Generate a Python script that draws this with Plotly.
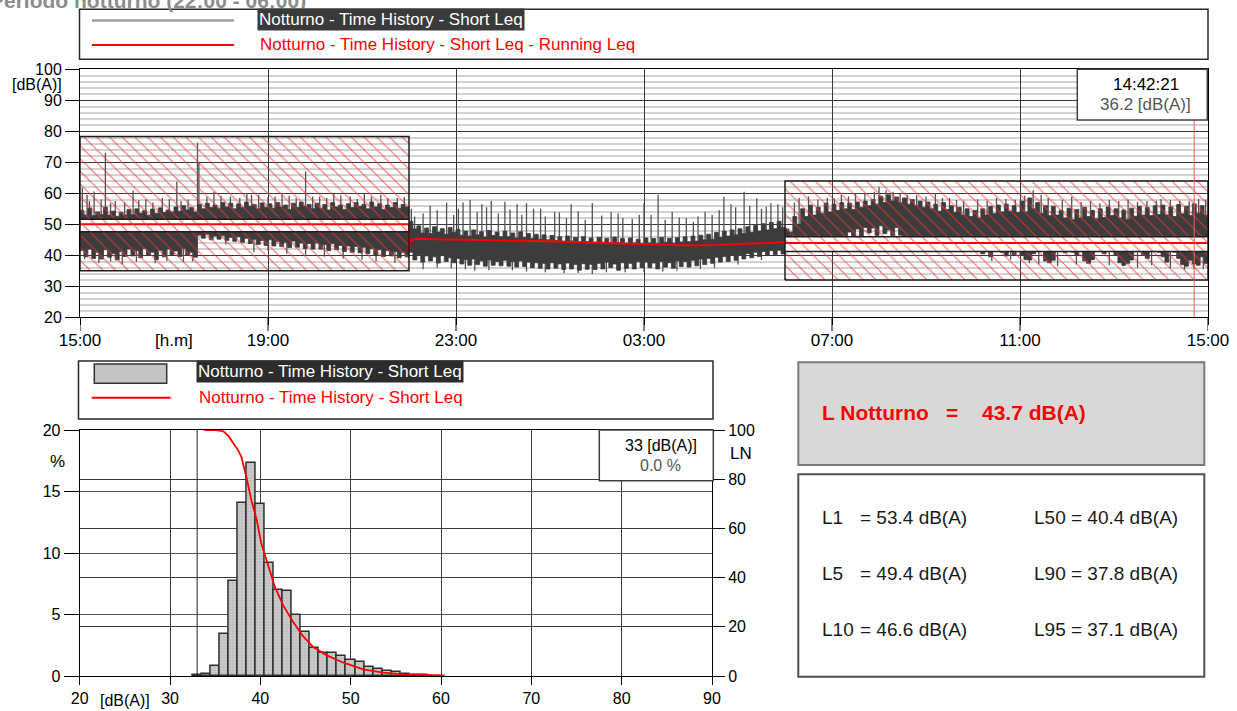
import numpy as np
import plotly.graph_objects as go

W, H = 1237, 711
def PX(x): return x / W
def PY(y): return 1 - y / H

FONT = "Arial, Liberation Sans, sans-serif"

# ---------------- time history data (hours after 15:00, 5-minute samples) ----------------
SAMPLE_MIN = 5
time_ticks = [0, 4, 8, 12, 16, 20, 24]
time_labels = ["15:00", "19:00", "23:00", "03:00", "07:00", "11:00", "15:00"]

upper_env = [
    54.5, 53.0, 55.2, 52.8, 54.0, 53.2, 55.5, 53.0, 54.2, 52.6, 53.8, 53.0,   # 15-16
    54.8, 53.2, 55.0, 53.6, 54.4, 52.9, 54.9, 53.5, 55.3, 53.8, 54.6, 54.0,   # 16-17
    55.6, 54.2, 56.0, 54.6, 55.4, 54.0, 56.4, 55.0, 56.8, 55.4, 56.2, 55.2,   # 17-18
    57.0, 55.6, 56.8, 55.0, 56.6, 55.4, 57.2, 55.8, 56.4, 55.0, 56.9, 55.5,   # 18-19
    56.6, 55.2, 57.0, 55.6, 56.2, 54.8, 56.8, 55.4, 57.2, 55.8, 56.4, 55.0,   # 19-20
    56.8, 55.2, 56.4, 54.6, 57.0, 55.6, 56.2, 54.8, 56.6, 55.4, 57.0, 55.8,   # 20-21
    56.4, 55.0, 57.2, 55.6, 56.6, 54.8, 56.2, 55.4, 57.0, 55.2, 56.4, 55.6,   # 21-22
    51.0, 48.5, 49.5, 47.2, 48.8, 47.0, 49.2, 47.5, 48.6, 46.8, 49.0, 47.4,   # 22-23
    48.4, 46.5, 47.8, 46.2, 48.2, 46.6, 47.6, 45.9, 48.0, 46.4, 47.5, 46.0,   # 23-00
    47.8, 46.0, 47.2, 45.6, 47.6, 45.8, 47.0, 45.4, 46.8, 45.2, 46.6, 45.0,   # 00-01
    46.4, 44.8, 46.0, 44.5, 46.2, 44.6, 45.8, 44.2, 46.0, 44.4, 45.6, 44.0,   # 01-02
    45.8, 44.2, 45.5, 43.9, 45.9, 44.1, 45.4, 43.8, 45.6, 44.0, 45.2, 43.7,   # 02-03
    45.6, 44.0, 45.4, 43.8, 45.8, 44.2, 45.5, 43.9, 45.7, 44.3, 46.0, 44.4,   # 03-04
    46.2, 44.6, 46.5, 45.0, 46.8, 45.2, 47.4, 45.8, 47.8, 46.2, 48.2, 46.6,   # 04-05
    48.6, 47.0, 49.2, 47.4, 49.6, 47.8, 50.2, 48.2, 50.6, 48.6, 51.0, 49.0,   # 05-06
    48.5, 47.5, 52.5, 50.0, 55.0, 52.5, 56.2, 53.0, 55.5, 53.5, 56.8, 54.0,   # 06-07
    56.5, 54.5, 57.0, 55.0, 56.8, 54.8, 57.2, 55.5, 57.5, 56.0, 58.0, 56.5,   # 07-08
    59.0, 57.0, 59.5, 57.5, 58.8, 57.0, 58.5, 56.5, 58.0, 56.0, 57.5, 55.5,   # 08-09
    57.2, 55.0, 56.5, 54.2, 57.0, 54.8, 56.0, 53.8, 55.5, 53.0, 55.0, 52.5,   # 09-10
    54.5, 52.0, 55.0, 53.0, 55.8, 53.5, 56.2, 54.0, 56.5, 54.2, 56.0, 53.8,   # 10-11
    57.5, 54.0, 58.5, 55.0, 57.0, 53.5, 56.0, 52.8, 55.8, 53.0, 54.5, 52.0,   # 11-12
    55.2, 51.5, 54.8, 52.0, 55.5, 52.5, 54.5, 51.8, 55.0, 52.2, 55.6, 52.8,   # 12-13
    55.0, 52.0, 54.6, 51.5, 55.2, 52.6, 55.8, 53.0, 55.4, 52.8, 56.0, 53.2,   # 13-14
    56.2, 53.0, 55.6, 52.5, 56.4, 53.4, 55.8, 52.8, 56.6, 53.6, 56.0, 53.0,   # 14-15
    55.5,
]
lower_env = [
    41.5, 39.5, 42.0, 39.0, 41.0, 38.8, 41.8, 39.4, 40.6, 38.5, 41.2, 39.6,
    42.0, 39.8, 41.5, 39.2, 42.2, 40.0, 41.0, 38.6, 41.6, 39.5, 42.0, 40.2,
    41.4, 39.6, 42.2, 40.0, 41.0, 39.4, 46.5, 45.5, 46.8, 45.0, 46.2, 45.2,
    46.4, 44.8, 45.8, 44.5, 46.0, 44.2, 45.5, 43.8, 45.2, 43.5, 44.8, 43.2,
    45.0, 43.0, 44.5, 42.8, 44.2, 42.5, 44.6, 42.6, 44.0, 42.2, 43.8, 42.0,
    44.0, 42.0, 43.5, 41.5, 43.8, 41.8, 43.2, 41.2, 43.0, 41.0, 42.8, 40.8,
    42.6, 40.5, 42.2, 40.0, 41.8, 39.6, 41.5, 39.8, 41.2, 39.2, 41.0, 39.5,
    41.0, 38.5, 40.2, 37.8, 39.8, 38.2, 39.5, 37.5, 39.9, 38.0, 39.2, 37.6,
    39.0, 37.2, 38.6, 36.8, 38.8, 37.0, 38.2, 36.5, 38.5, 36.8, 38.0, 36.6,
    38.4, 36.5, 38.0, 36.2, 38.2, 36.4, 37.8, 36.0, 37.6, 35.8, 37.4, 35.6,
    37.6, 35.8, 37.2, 35.4, 37.5, 35.6, 37.0, 35.2, 37.3, 35.5, 37.1, 35.4,
    37.4, 35.6, 37.8, 36.0, 37.2, 35.2, 37.6, 35.8, 37.4, 35.6, 37.9, 36.0,
    37.8, 36.0, 37.5, 35.6, 38.0, 36.2, 37.6, 35.8, 38.2, 36.4, 38.0, 36.2,
    38.4, 36.6, 38.8, 37.0, 39.0, 37.4, 39.4, 37.8, 39.6, 38.0, 40.0, 38.4,
    40.2, 38.8, 40.6, 39.2, 41.0, 39.6, 41.2, 40.0, 41.5, 40.2, 41.6, 40.4,
    43.0, 43.0, 43.0, 43.0, 43.0, 43.0, 43.0, 43.0, 43.0, 43.0, 43.0, 43.0,
    43.0, 43.0, 43.0, 43.0, 47.5, 46.2, 48.5, 46.0, 49.0, 47.2, 48.8, 46.4,
    49.5, 47.0, 48.2, 46.3, 49.0, 46.5, 43.0, 43.0, 43.0, 43.0, 43.0, 43.0,
    43.0, 43.0, 43.0, 43.0, 43.0, 43.0, 43.0, 43.0, 43.0, 43.0, 43.0, 43.0,
    43.0, 43.0, 40.5, 42.5, 39.5, 42.0, 43.0, 41.0, 39.8, 42.5, 40.2, 41.6,
    40.0, 38.6, 38.5, 40.5, 42.5, 41.8, 38.2, 37.6, 38.4, 41.5, 42.5, 40.8,
    42.5, 41.0, 40.2, 42.0, 38.2, 37.4, 38.6, 41.5, 42.5, 40.5, 41.8, 42.5,
    40.0, 37.6, 36.8, 37.4, 38.5, 41.5, 42.5, 40.2, 39.0, 41.8, 42.5, 41.0,
    39.5, 37.8, 42.0, 41.0, 39.0, 37.0, 36.5, 38.4, 37.2, 36.8, 39.5, 37.4,
    37.8,
]
spike_up_t = [0.05, 0.15, 0.30, 0.54, 0.75, 1.13, 1.40, 1.75, 2.06, 2.30, 2.50, 2.53, 2.85, 3.20,
              3.55, 3.80, 4.15, 4.45, 4.80, 5.10, 5.40, 5.75, 6.05, 6.40, 6.75,
              0.20, 0.45, 0.65, 0.95, 1.25, 1.55, 1.90, 2.15, 2.70, 3.00, 3.40, 3.65, 4.00, 4.30,
              4.60, 4.95, 5.25, 5.55, 5.90, 6.20, 6.55, 6.90,
              7.05, 7.30, 7.45, 7.80, 8.15, 8.30, 8.55, 8.75, 9.04, 9.30, 9.50, 9.80, 10.10, 10.45,
              10.90, 11.30, 11.55, 11.90, 12.00, 12.30, 12.60, 12.90, 13.30, 13.70, 13.85, 14.13,
              14.40, 14.60, 14.85,
              7.12, 7.60, 7.95, 8.05, 8.45, 8.65, 8.90, 9.15, 9.40, 9.65, 9.90, 10.20, 10.35, 10.60,
              10.75, 11.10, 11.45, 11.75, 12.15, 12.45, 12.75, 13.05, 13.15, 13.45, 13.60, 13.95,
              14.25, 14.50, 14.70, 14.95,
              15.30, 15.50, 15.90, 16.20, 16.50, 16.90, 17.00, 17.30, 17.60, 18.00, 18.20, 18.50,
              18.80, 19.10, 19.50, 19.90, 20.28, 20.60, 21.10, 21.50, 21.90, 22.30, 22.70, 23.00,
              23.40, 23.80,
              15.20, 15.70, 16.05, 16.35, 16.70, 17.15, 17.45, 17.80, 18.35, 18.65, 19.30, 19.70,
              20.10, 20.45, 20.90, 21.30, 21.70, 22.10, 22.50, 22.90, 23.20, 23.60, 23.95]
spike_up_v = [61.7, 59.5, 60.6, 73.1, 57.5, 60.9, 58.0, 58.5, 63.7, 58.0, 76.3, 70.0, 60.5, 59.0,
              60.0, 59.5, 59.0, 59.2, 67.0, 59.0, 60.2, 59.0, 60.0, 59.5, 58.5,
              57.5, 58.0, 56.8, 57.2, 57.8, 57.0, 58.2, 57.5, 58.8, 59.2, 58.5, 59.5, 58.8, 59.6,
              58.4, 59.0, 58.5, 59.4, 58.2, 59.0, 58.4, 58.8,
              55.0, 53.5, 56.0, 57.0, 57.0, 57.8, 56.5, 57.5, 57.3, 56.5, 56.8, 55.0, 54.0, 56.5,
              56.8, 54.0, 52.0, 53.0, 56.8, 59.5, 54.0, 52.0, 54.0, 58.9, 56.5, 60.5,
              58.4, 55.7, 56.5,
              52.5, 54.5, 53.0, 55.0, 54.0, 55.5, 53.5, 54.8, 53.0, 55.0, 52.5, 53.8, 52.0, 54.2,
              51.5, 52.8, 53.5, 51.8, 53.0, 51.5, 52.2, 50.8, 52.5, 53.0, 54.5, 55.5,
              56.0, 55.0, 56.8, 55.5,
              58.5, 59.0, 58.5, 59.5, 60.0, 60.5, 62.1, 60.5, 59.5, 59.0, 60.0, 58.5,
              57.5, 58.0, 58.5, 58.0, 61.0, 58.5, 58.9, 57.5, 57.8, 58.0, 57.5, 58.2,
              57.5, 58.2,
              57.0, 58.0, 58.3, 59.0, 60.0, 61.0, 60.2, 59.4, 58.5, 57.8, 57.5, 58.2,
              59.2, 59.5, 57.8, 57.2, 56.8, 57.5, 57.2, 57.6, 57.8, 57.4, 57.9]
spike_dn_t = [0.40, 0.90, 1.60, 2.20, 2.40, 3.70, 4.40, 5.60, 6.30, 6.70,
              0.10, 0.65, 1.20, 1.85, 3.10, 4.00, 4.80, 5.20, 6.00,
              7.30, 8.40, 9.20, 10.30, 10.90, 11.60, 12.40, 13.20,
              7.60, 7.90, 8.20, 8.70, 9.50, 9.90, 10.60, 11.20, 12.00, 12.70, 13.50, 14.00, 14.50,
              20.40, 20.80, 21.90, 22.50, 23.50, 23.90,
              19.40, 19.80, 20.20, 21.20, 21.50, 22.20, 22.80, 23.20, 23.70]
spike_dn_v = [37.5, 37.0, 37.5, 37.8, 38.0, 41.0, 40.5, 39.0, 38.0, 37.5,
              38.8, 38.0, 37.8, 38.2, 43.5, 41.5, 40.2, 39.5, 38.6,
              35.5, 35.0, 35.2, 34.2, 34.0, 34.5, 34.8, 35.6,
              36.0, 35.8, 35.5, 35.2, 34.8, 34.5, 34.3, 34.5, 34.6, 35.0, 36.0, 37.0, 38.5,
              37.0, 36.5, 36.8, 36.0, 35.3, 35.5,
              38.2, 38.6, 37.5, 37.0, 37.8, 36.5, 36.8, 35.8, 35.5]

run_t = [0, 7.0, 7.0, 7.02, 7.05, 7.15, 7.5, 8.0, 8.5, 9.0, 9.5, 10.0, 10.5, 11.0, 11.5,
         12.0, 12.5, 13.0, 13.5, 14.0, 14.5, 15.0, 15.0, 24.0]
run_v = [50.0, 50.0, 41.3, 45.5, 44.8, 45.3, 45.2, 45.1, 45.0, 44.9, 44.7, 44.5, 44.3, 44.1, 43.8,
         43.5, 43.3, 43.2, 43.3, 43.6, 43.9, 44.2, 44.0, 44.0]

mask_start = [0.0, 15.0]
mask_end = [7.0, 24.0]
mask_low = [35.0, 32.0]
mask_high = [78.3, 64.0]
band_low = [47.6, 41.2]
band_high = [51.6, 46.0]

cursor_time = 23.706
cursor_label = "14:42:21"
cursor_value = "36.2 [dB(A)]"

# ---------------- distribution data ----------------
hist_db = list(range(33, 59))
hist_pct = [0.08, 0.15, 0.8, 3.4, 7.75, 14.1, 17.3, 14.0, 9.2, 7.0, 6.9, 5.0, 3.55, 2.3,
            1.9, 1.9, 1.6, 1.3, 1.15, 0.75, 0.6, 0.4, 0.3, 0.2, 0.1, 0.05]
ln_db = [33.8, 35.0, 35.9, 36.5, 37.0, 37.5, 37.9, 38.45, 39.0, 39.6, 40.1, 40.7, 41.6, 42.5,
         43.6, 44.7, 45.8, 47.3, 49.2, 51.4, 53.6, 55.8, 58.0, 60.4]
ln_val = [100, 100, 99.5, 97.5, 94.6, 92.0, 89.1, 81.0, 71.5, 63.4, 54.0, 46.5, 36.3, 28.9,
          22.1, 16.3, 11.9, 8.5, 5.4, 2.7, 1.4, 0.7, 0.4, 0.2]
hist_cursor_db = 33
hist_cursor_label = "33 [dB(A)]"
hist_cursor_value = "0.0 %"

leq_label, leq_value = "L Notturno", "43.7 dB(A)"
stats_left = [("L1", "= 53.4 dB(A)"), ("L5", "= 49.4 dB(A)"), ("L10", "= 46.6 dB(A)")]
stats_right = ["L50 = 40.4 dB(A)", "L90 = 37.8 dB(A)", "L95 = 37.1 dB(A)"]

series_name = "Notturno - Time History - Short Leq"
running_name = "Notturno - Time History - Short Leq - Running Leq"
title_text = "Periodo notturno (22:00 - 06:00)"

# ---------------- figure ----------------
t = np.arange(len(upper_env)) * SAMPLE_MIN / 60.0
U = np.array(upper_env)
L = np.array(lower_env)
mid = (U + L) / 2

fig = go.Figure()

# spikes (drawn under the body, so only the part outside it shows)
sx, sy = [], []
for tt, vv in zip(spike_up_t + spike_dn_t, spike_up_v + spike_dn_v):
    b = float(np.interp(tt, t, mid))
    sx += [tt, tt, None]
    sy += [b, vv, None]
fig.add_trace(go.Scatter(x=sx, y=sy, mode="lines", line=dict(color="#525252", width=1.3),
                         hoverinfo="skip", xaxis="x", yaxis="y"))
# body
fig.add_trace(go.Scatter(x=t, y=L, mode="lines", line=dict(color="#3c3c3c", width=0.8, shape="hv"),
                         hoverinfo="skip", xaxis="x", yaxis="y"))
fig.add_trace(go.Scatter(x=t, y=U, mode="lines", fill="tonexty", fillcolor="#3c3c3c",
                         line=dict(color="#3c3c3c", width=0.8, shape="hv"), hoverinfo="skip",
                         xaxis="x", yaxis="y"))
# white bands
for s, e, bl, bh in zip(mask_start, mask_end, band_low, band_high):
    fig.add_trace(go.Scatter(x=[s, e, e, s, s], y=[bl, bl, bh, bh, bl], mode="none",
                             fill="toself", fillcolor="white", hoverinfo="skip",
                             xaxis="x", yaxis="y"))
# running Leq
fig.add_trace(go.Scatter(x=run_t, y=run_v, mode="lines", line=dict(color="#ff0000", width=2),
                         hoverinfo="skip", xaxis="x", yaxis="y"))
# hatched masks
for s, e, lo, hi in zip(mask_start, mask_end, mask_low, mask_high):
    fig.add_trace(go.Scatter(x=[s, e, e, s, s], y=[lo, lo, hi, hi, lo], mode="none",
                             fill="toself", fillcolor="rgba(0,0,0,0)",
                             fillpattern=dict(shape="\\", fgcolor="#ff3030", fgopacity=0.75,
                                              size=9, solidity=0.12, fillmode="overlay"),
                             hoverinfo="skip", xaxis="x", yaxis="y"))
# outlines
ox, oy = [], []
for s, e, lo, hi, bl, bh in zip(mask_start, mask_end, mask_low, mask_high, band_low, band_high):
    ox += [s, e, e, s, s, None, s, e, None, s, e, None]
    oy += [lo, lo, hi, hi, lo, None, bl, bl, None, bh, bh, None]
fig.add_trace(go.Scatter(x=ox, y=oy, mode="lines", line=dict(color="#1e1e1e", width=1.5),
                         hoverinfo="skip", xaxis="x", yaxis="y"))

# histogram
fig.add_trace(go.Bar(x=hist_db, y=hist_pct, width=1, xaxis="x2", yaxis="y2",
                     marker=dict(color="#c4c4c4", line=dict(color="#2e2e2e", width=1.5),
                                 pattern=dict(shape=".", fgcolor="#f0f0f0", bgcolor="#bcbcbc",
                                              size=3, solidity=0.35)),
                     hoverinfo="skip"))
fig.add_trace(go.Scatter(x=ln_db, y=ln_val, mode="lines", line=dict(color="#ff0000", width=1.8),
                         xaxis="x2", yaxis="y3", hoverinfo="skip"))

tickfont = dict(family=FONT, size=17, color="black")
fig.update_layout(
    width=W, height=H, margin=dict(l=0, r=0, t=0, b=0, pad=0, autoexpand=False),
    paper_bgcolor="white", plot_bgcolor="white", showlegend=False, bargap=0,
    font=dict(family=FONT, color="black"),
    xaxis=dict(domain=[PX(80), PX(1208)], range=[0, 24], anchor="y", automargin=False,
               tickvals=time_ticks, ticktext=time_labels, ticks="outside", ticklen=7,
               tickcolor="black", showgrid=True, gridcolor="#383838", gridwidth=1,
               showline=True, linecolor="black", mirror=True, zeroline=False,
               tickfont=tickfont, fixedrange=True),
    yaxis=dict(domain=[PY(317.3), PY(69.3)], range=[20, 100], anchor="x", dtick=10,
               automargin=False,
               ticks="outside", ticklen=14, tickcolor="black", showgrid=True,
               gridcolor="#383838", gridwidth=1, showline=True, linecolor="black",
               mirror=True, zeroline=False, tickfont=dict(family=FONT, size=16, color="black"),
               minor=dict(dtick=2, showgrid=True, gridcolor="#d2d2d2", gridwidth=1.6, ticks=""),
               fixedrange=True),
    xaxis2=dict(domain=[PX(79.7), PX(712)], range=[20, 90], anchor="y2", dtick=10,
                automargin=False,
                ticks="outside", ticklen=8, tickcolor="black", showgrid=True,
                gridcolor="#3a3a3a", showline=True, linecolor="black", mirror=True,
                zeroline=False, tickfont=dict(family=FONT, size=16, color="black"),
                fixedrange=True),
    yaxis2=dict(domain=[PY(676), PY(430)], range=[0, 20], anchor="x2", dtick=5,
                automargin=False,
                ticks="outside", ticklen=15, tickcolor="black", showgrid=True,
                gridcolor="#555555", showline=True, linecolor="black", zeroline=False,
                tickfont=dict(family=FONT, size=16, color="black"), fixedrange=True),
    yaxis3=dict(overlaying="y2", side="right", range=[0, 100], anchor="x2", dtick=20,
                automargin=False,
                ticks="outside", ticklen=12, tickcolor="black", showgrid=True,
                gridcolor="#3a3a3a", showline=True, linecolor="black", zeroline=False,
                tickfont=dict(family=FONT, size=16, color="black"), fixedrange=True),
)

shapes = []
def rect(x0, y0, x1, y1, fill="white", line="#303030", lw=1.5):
    shapes.append(dict(type="rect", xref="paper", yref="paper", x0=PX(x0), x1=PX(x1),
                       y0=PY(y1), y1=PY(y0), fillcolor=fill, line=dict(color=line, width=lw)))
def hline(x0, x1, y, color, lw):
    shapes.append(dict(type="line", xref="paper", yref="paper", x0=PX(x0), x1=PX(x1),
                       y0=PY(y), y1=PY(y), line=dict(color=color, width=lw)))

# longer time-axis tick marks
for tv in time_ticks:
    shapes.append(dict(type="line", xref="x", yref="paper", x0=tv, x1=tv, y0=PY(331), y1=PY(317.3),
                       line=dict(color="black", width=1)))
# cursors
shapes.append(dict(type="line", xref="x", yref="y", x0=cursor_time, x1=cursor_time, y0=20, y1=100,
                   line=dict(color="#ff5a5a", width=1)))
shapes.append(dict(type="line", xref="x2", yref="y2", x0=hist_cursor_db, x1=hist_cursor_db,
                   y0=0, y1=20, line=dict(color="#202020", width=1)))
# legend 1
rect(79.5, 9.3, 1208, 59.3, fill="rgba(0,0,0,0)", line="#2a2a2a", lw=1.5)
hline(92, 234, 20.5, "#a0a0a0", 2.5)
hline(92, 234, 45, "#ff0000", 2)
# cursor box top
rect(1077.3, 69.3, 1207.3, 120, fill="white", line="#404040", lw=1.5)
# legend 2
rect(78.5, 361, 713, 419, fill="rgba(0,0,0,0)", line="#2a2a2a", lw=1.5)
rect(94.3, 364, 166.7, 383.3, fill="#c4c4c4", line="#333333", lw=1.5)
hline(91.7, 170.7, 397.7, "#ff0000", 2)
# cursor box hist
rect(599.3, 430, 713.3, 480.7, fill="white", line="#404040", lw=1.5)
# stats boxes
rect(798.3, 362.3, 1204.3, 465, fill="#d8d8d8", line="#7a7a7a", lw=2)
rect(798.3, 474.3, 1204.3, 676.7, fill="white", line="#505050", lw=2)

ann = []
def txt(x, y, s, size=17, color="black", xanchor="left", bg=None, xref="paper"):
    d = dict(x=x if xref != "paper" else PX(x), y=PY(y), xref=xref, yref="paper", text=s,
             showarrow=False, xanchor=xanchor, yanchor="middle",
             font=dict(family=FONT, size=size, color=color))
    if bg:
        d.update(bgcolor=bg, borderpad=1)
    ann.append(d)

txt(-12, 0, "<b>" + title_text + "</b>", size=21, color="#8c8c8c")
txt(257, 19.7, series_name, color="white", bg="#3a3a3a")
txt(258, 44, running_name, color="#ff0000")
txt(37, 85, "[dB(A)]", size=16, xanchor="center")
txt(2, 340.5, "[h.m]", xanchor="center", xref="x")
txt(1145.7, 84, cursor_label, xanchor="center")
txt(1145.7, 105, cursor_value, color="#555555", xanchor="center")
txt(196, 371.7, series_name, color="white", bg="#2c2c2c")
txt(197, 397, series_name, color="#ff0000")
txt(57, 462, "%", xanchor="center")
txt(728, 453, "LN")
txt(25, 700, "[dB(A)]", size=16, xanchor="center", xref="x2")
txt(660.7, 445, hist_cursor_label, size=16, xanchor="center")
txt(660.7, 465, hist_cursor_value, size=16, color="#555555", xanchor="center")
txt(820, 412, "<b>" + leq_label + "</b>", size=21, color="#ff0000")
txt(952, 412, "<b>=</b>", size=21, color="#ff0000", xanchor="center")
txt(980, 412, "<b>" + leq_value + "</b>", size=21, color="#ff0000")
for i, ((lab, val), right) in enumerate(zip(stats_left, stats_right)):
    yy = 517.3 + 56 * i
    txt(820, yy, lab, size=19, color="#1a1a1a")
    txt(858, yy, val, size=19, color="#1a1a1a")
    txt(1032, yy, right, size=19, color="#1a1a1a")

fig.update_layout(shapes=shapes, annotations=ann)

fig.write_html("out.html", config={"displayModeBar": False},
               post_script="document.body.style.margin='0';document.body.style.overflow='hidden';")
